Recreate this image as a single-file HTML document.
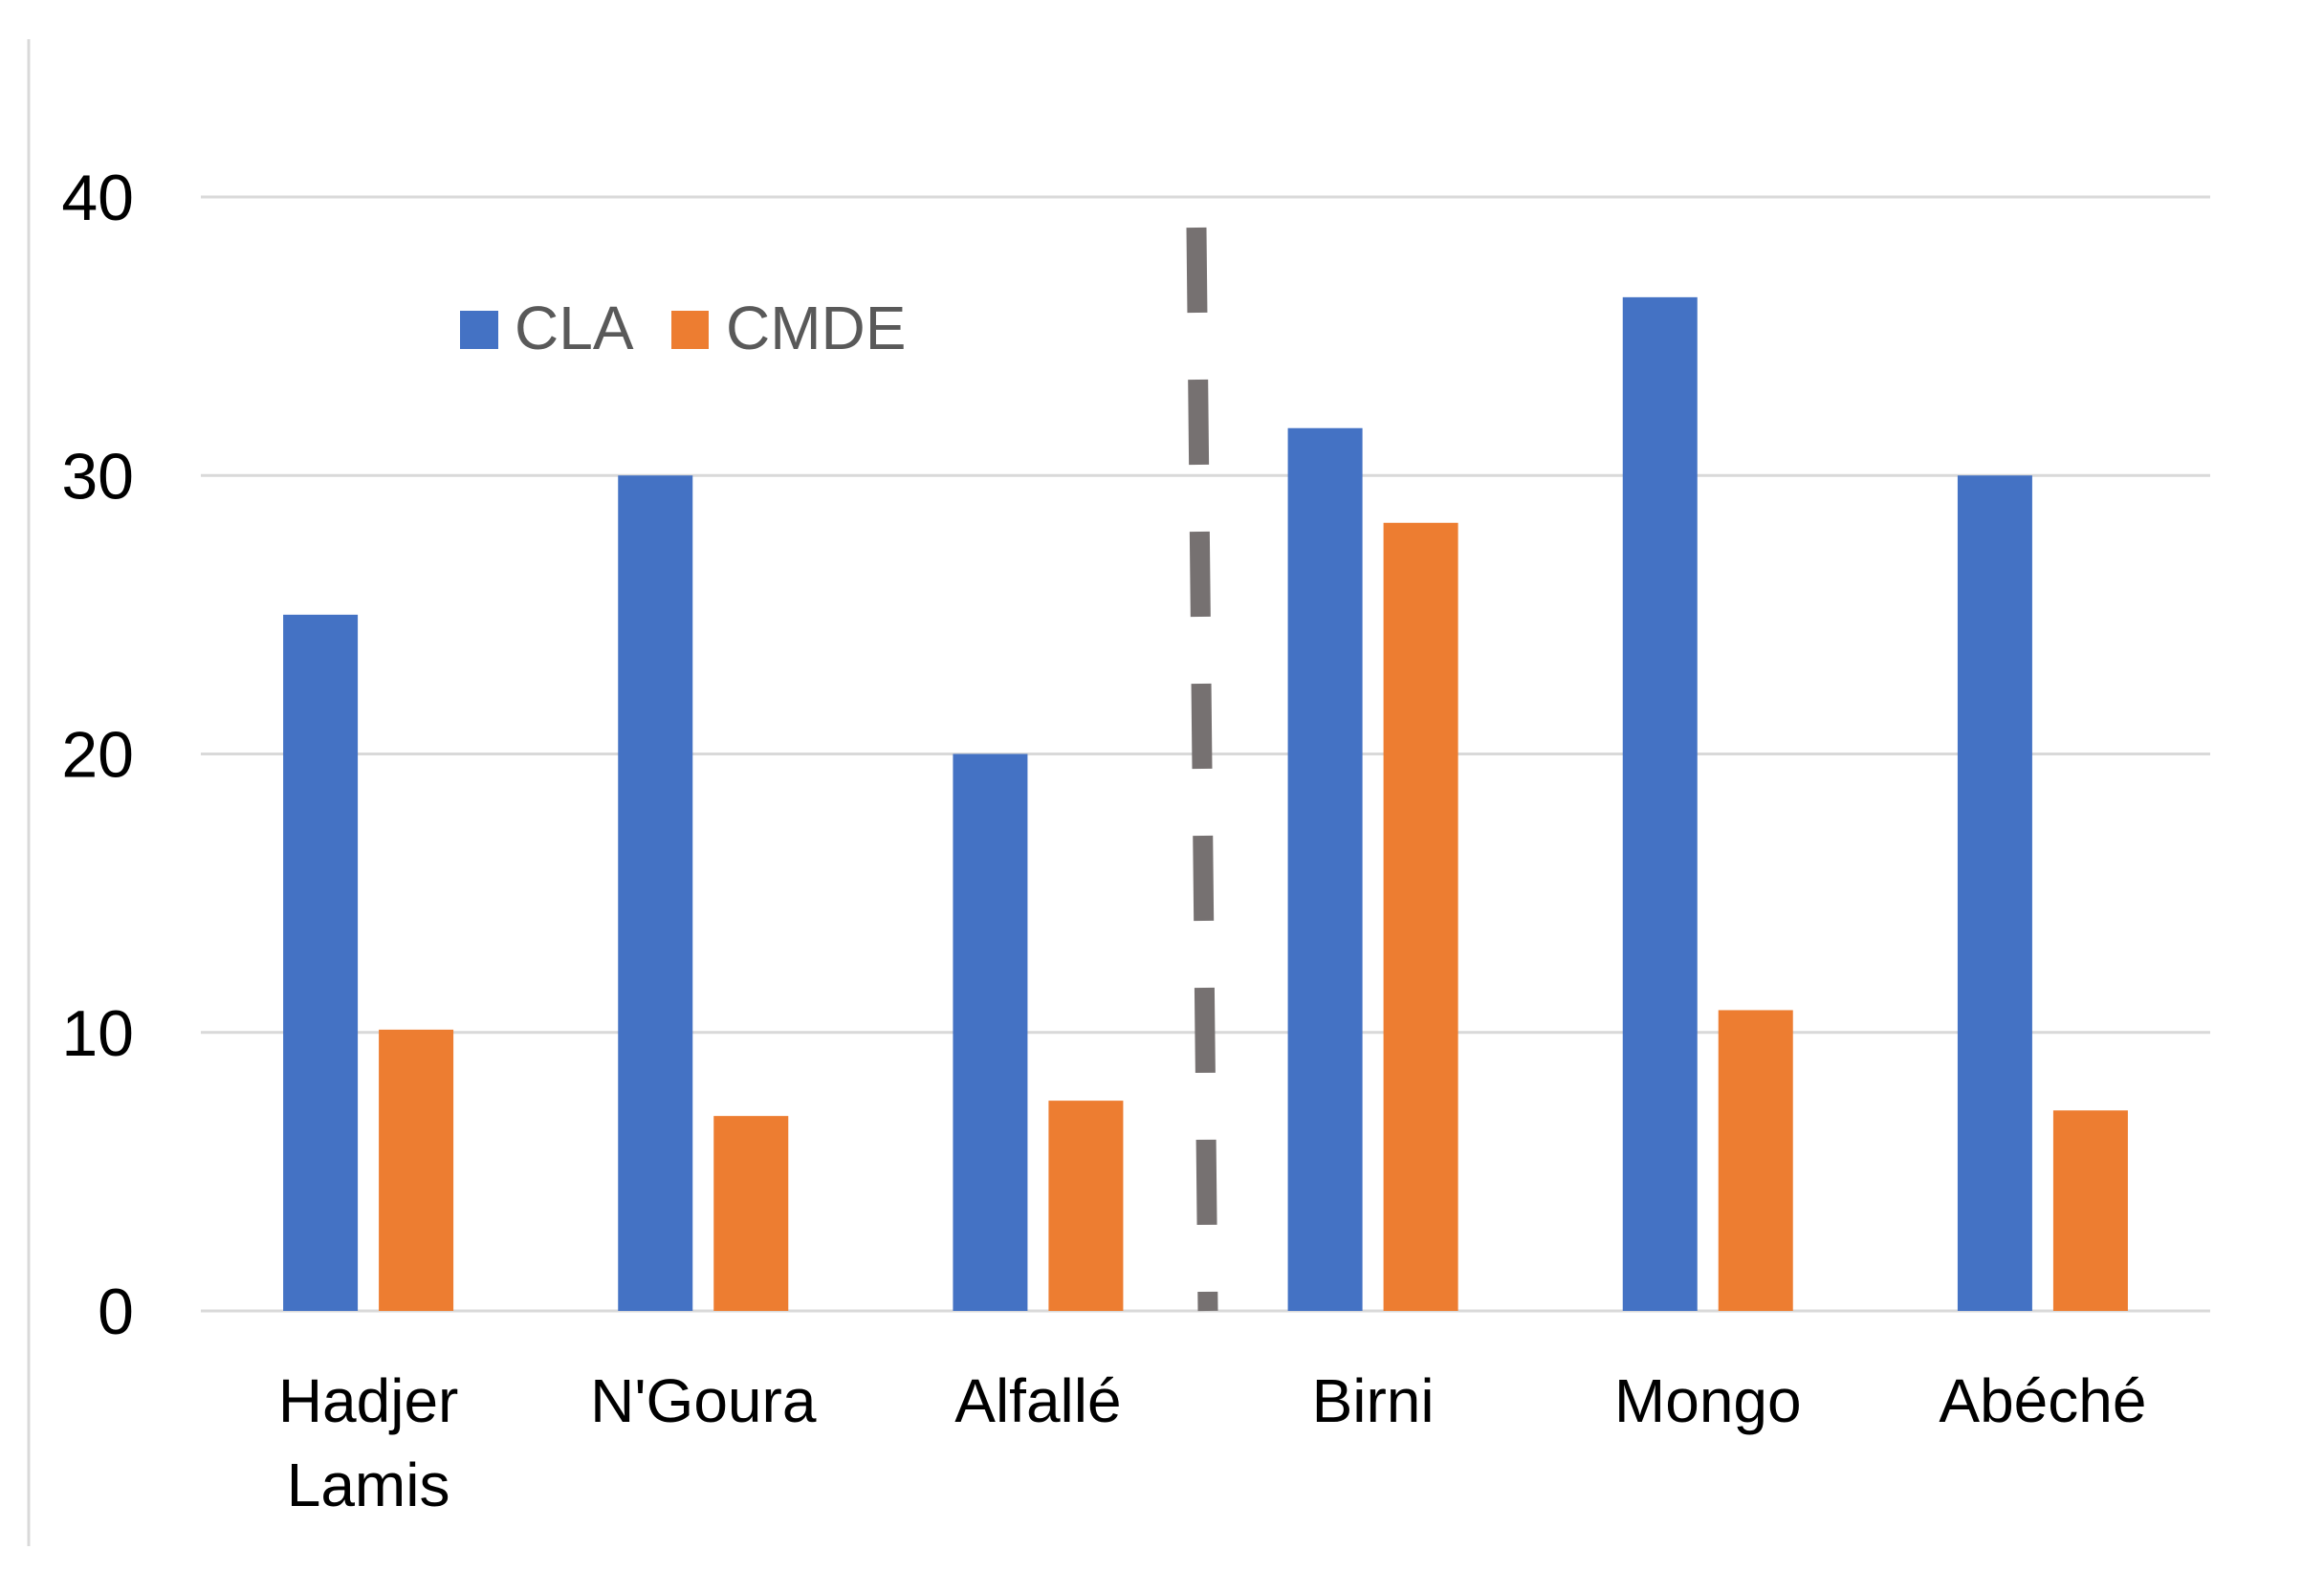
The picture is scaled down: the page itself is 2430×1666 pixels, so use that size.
<!DOCTYPE html>
<html><head><meta charset="utf-8"><style>
html,body{margin:0;padding:0;background:#fff;}
svg{display:block;}
</style></head><body>
<svg id="chart" width="2430" height="1666" viewBox="0 0 2430 1666" xmlns="http://www.w3.org/2000/svg" font-family="'Liberation Sans', sans-serif">
<line x1="30" y1="41" x2="30" y2="1617" stroke="#d9d9d9" stroke-width="3"/>
<g id="grid"></g><g id="bars"></g><g id="labels"></g>
<line x1="1251" y1="238" x2="1263" y2="1371" stroke="#767171" stroke-width="21" stroke-dasharray="89 70"/>
<g>
<rect x="481" y="325" width="40" height="40" fill="#4472c4"/>
<text x="538" y="365" font-size="64" fill="#595959">CLA</text>
<rect x="702" y="325" width="39" height="40" fill="#ed7d31"/>
<text x="759" y="365" font-size="64" fill="#595959">CMDE</text>
</g>
</svg>
<script>
const categories = [["Hadjer","Lamis"],["N'Goura"],["Alfallé"],["Birni"],["Mongo"],["Abéché"]];
const claValues = [25, 30, 20, 31.7, 36.4, 30];
const cmdeValues = [10.1, 7.0, 7.55, 28.3, 10.8, 7.2];
const yTicks = [0, 10, 20, 30, 40];

const NS = "http://www.w3.org/2000/svg";
const x0 = 210, x1 = 2311, yBase = 1371, yTop = 206, yMax = 40;
const band = (x1 - x0) / categories.length;
const y = v => yBase - (v / yMax) * (yBase - yTop);
const xc = i => x0 + band * (i + 0.5);
function mk(tag, attrs, parent) {
  const e = document.createElementNS(NS, tag);
  for (const k in attrs) e.setAttribute(k, attrs[k]);
  parent.appendChild(e);
  return e;
}
const grid = document.getElementById('grid');
const bars = document.getElementById('bars');
const labels = document.getElementById('labels');
yTicks.forEach(t => {
  const l = mk('line', {x1: x0, x2: x1, y1: y(t), y2: y(t), stroke: '#d9d9d9', 'stroke-width': 3}, grid);
  
  
  const tx = mk('text', {x: 140, y: y(t) + 24, 'font-size': 68, 'text-anchor': 'end', fill: '#000'}, labels);
  tx.textContent = t;
  
  
});
const bw = 78;
categories.forEach((c, i) => {
  const cx = xc(i);
  const b1 = mk('rect', {x: cx - 50 - bw / 2, y: y(claValues[i]), width: bw, height: yBase - y(claValues[i]), fill: '#4472c4'}, bars);
  
  
  const b2 = mk('rect', {x: cx + 50 - bw / 2, y: y(cmdeValues[i]), width: bw, height: yBase - y(cmdeValues[i]), fill: '#ed7d31'}, bars);
  
  
  c.forEach((line, j) => {
    const t = mk('text', {x: cx, y: 1487 + j * 88, 'font-size': 64, 'text-anchor': 'middle', fill: '#000'}, labels);
    t.textContent = line;
    
    
  });
});
</script>
</body></html>
